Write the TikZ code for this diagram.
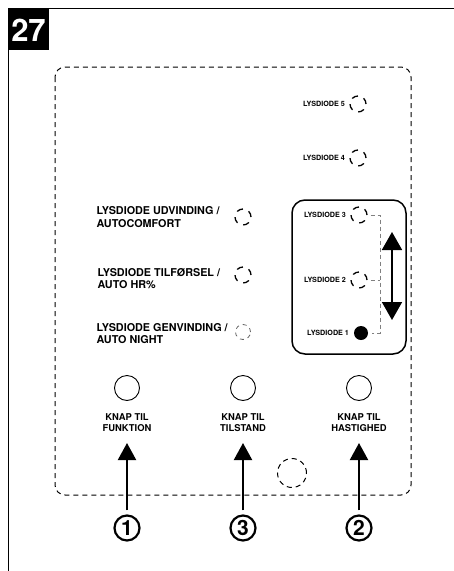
\documentclass[tikz,border=0pt]{standalone}
\usepackage{fontspec}
\setmainfont{TeX Gyre Heros}
\usetikzlibrary{arrows.meta,positioning}
\definecolor{ledgray}{HTML}{666666}
\definecolor{busgray}{HTML}{808080}

\begin{document}
\begin{tikzpicture}[
  x=1pt, y=-1pt,
  line width=1pt,
  smalltxt/.style={font=\bfseries\fontsize{7.2}{8}\selectfont, inner sep=0pt},
  ledtxt/.style={font=\bfseries\fontsize{10.8}{12.5}\selectfont, align=left, inner sep=0pt, anchor=west},
  knaptxt/.style={font=\bfseries\fontsize{9.4}{11}\selectfont, align=center, inner sep=0pt},
  led/.style={circle, draw, dash pattern=on 6.3pt off 6.27pt, line width=1.3pt, minimum size=16pt, inner sep=0pt},
  ledon/.style={circle, fill=black, minimum size=14pt, inner sep=0pt},
  knap/.style={circle, draw, line width=0.9pt, minimum size=25pt, inner sep=0pt},
  num/.style={circle, draw, line width=2.2pt, minimum size=25pt, inner sep=0pt, font=\bfseries\fontsize{21}{21}\selectfont},
  push/.style={-{Triangle[width=18pt,length=17pt]}, line width=2pt},
  bus/.style={draw=busgray, dash pattern=on 4pt off 3pt, line width=0.8pt}
]
  \useasboundingbox (0,0) rectangle (454,571);

  \draw[line width=1.8pt] (454,8.5) -- (8.5,8.5);
  \draw[line width=1.4pt] (8.5,8.5) -- (8.5,571);
  \fill[black] (8,8) rectangle (49,50);
  \node[text=white, font=\bfseries\fontsize{31}{31}\selectfont, inner sep=0pt] (nr) at (28.5,30) {27};

  \draw[dash pattern=on 5pt off 4pt, rounded corners=10pt] (55,67) rectangle (411,495);

  \node[led] (led5) at (358,104) {};
  \node[smalltxt, left=4pt of led5] (led5txt) {LYSDIODE 5};
  \node[led] (led4) at (358,158) {};
  \node[smalltxt, left=4pt of led4] (led4txt) {LYSDIODE 4};

  \draw[line width=1.5pt, rounded corners=13pt] (292,200) rectangle (406,354);
  \node[led] (led3) at (359,215) {};
  \node[smalltxt, left=4pt of led3] (led3txt) {LYSDIODE 3};
  \node[led] (led2) at (359,280) {};
  \node[smalltxt, left=4pt of led2] (led2txt) {LYSDIODE 2};
  \node[ledon] (led1) at (361,333) {};
  \node[smalltxt, left=4pt of led1] (led1txt) {LYSDIODE 1};
  \coordinate (bus3) at (380,215);
  \coordinate (bus2) at (380,280);
  \coordinate (bus1) at (380,333);
  \draw[bus] ([xshift=3pt]led3.east) -- (bus3) -- (bus1) -- ([xshift=3pt]led1.east);
  \draw[bus] ([xshift=3pt]led2.east) -- (bus2);
  \coordinate (arrtop) at (392,232);
  \coordinate (arrbot) at (392,320);
  \draw[{Triangle[width=20pt,length=18pt]}-{Triangle[width=20pt,length=18pt]}, line width=1.8pt] (arrtop) -- (arrbot);

  \node[ledtxt] (udvtxt) at (96,217) {LYSDIODE UDVINDING /\\AUTOCOMFORT};
  \node[led] (udv) at (243,217) {};
  \node[ledtxt] (tiltxt) at (97,278.5) {LYSDIODE TILFØRSEL /\\AUTO HR\%};
  \node[led] (til) at (243,275) {};
  \node[ledtxt] (gentxt) at (96,333.5) {LYSDIODE GENVINDING /\\AUTO NIGHT};
  \node[led, draw=ledgray, line width=0.8pt, dash pattern=on 4pt off 4pt, minimum size=15pt] (gen) at (243,332) {};

  \node[knap] (knap1) at (127,388) {};
  \node[knaptxt] (knap1txt) at (127,422.5) {KNAP TIL\\FUNKTION};
  \node[knap] (knap3) at (243,388) {};
  \node[knaptxt] (knap3txt) at (243,422.5) {KNAP TIL\\TILSTAND};
  \node[knap] (knap2) at (359,388) {};
  \node[knaptxt] (knap2txt) at (359,422.5) {KNAP TIL\\HASTIGHED};

  \node[circle, draw, dash pattern=on 5pt off 4pt, minimum size=29pt, inner sep=0pt] (sensor) at (292,473) {};

  \node[num] (num1) at (127,528) {1};
  \node[num] (num3) at (243,528) {3};
  \node[num] (num2) at (359,528) {2};
  \coordinate (tip1) at (127,443);
  \coordinate (tip3) at (243,443);
  \coordinate (tip2) at (359,443);
  \draw[push] ([yshift=4pt]num1.north) -- (tip1);
  \draw[push] ([yshift=4pt]num3.north) -- (tip3);
  \draw[push] ([yshift=4pt]num2.north) -- (tip2);
\end{tikzpicture}
\end{document}
